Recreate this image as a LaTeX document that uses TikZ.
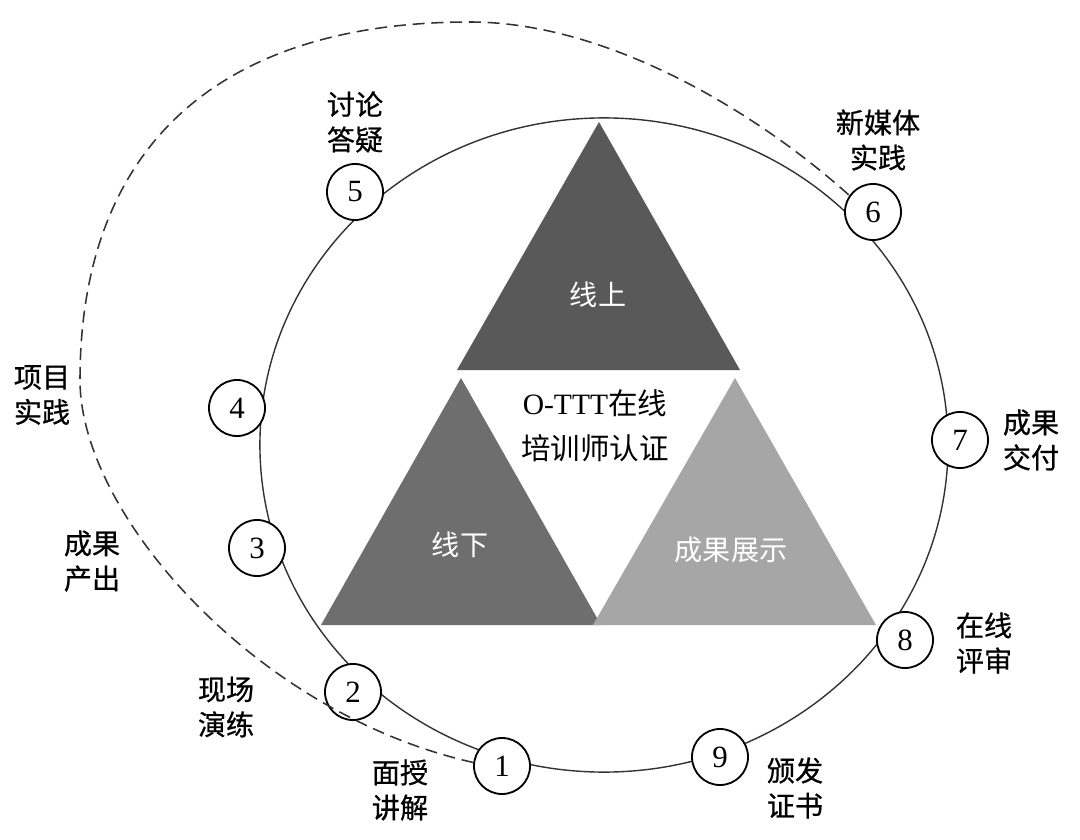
\documentclass[tikz,border=0pt]{standalone}
\usepackage{fontspec}
\setmainfont{Liberation Serif}
\newfontfamily\cjk{Noto Sans CJK SC}
\newfontfamily\cjkb[FakeBold=0.6]{Noto Sans CJK SC}
\begin{document}
\begin{tikzpicture}[x=0.025cm,y=-0.025cm,
  num/.style={circle,draw=black,line width=1.3pt,fill=white,minimum size=1.4cm,inner sep=0pt,font=\fontsize{22}{22}\selectfont},
  lbl/.style={align=center,inner sep=0pt,font=\cjkb\fontsize{20}{25}\selectfont},
  tlbl/.style={align=center,inner sep=0pt,text=white,font=\cjk\fontsize{20}{25}\selectfont},
  ring/.style={draw=black!80,line width=1pt},
  loopline/.style={draw=black!80,line width=1.1pt,dash pattern=on 0.3cm off 0.17cm}]
\useasboundingbox (0,0) rectangle (1080,840);
\fill[white] (0,0) rectangle (1080,840);
% big ring
\draw[ring] (604,445) ellipse [x radius=8.6cm, y radius=8.175cm];
% triangles
\fill[black!65!white] (599,122) -- (740,370) -- (457,370) -- cycle;
\fill[black!57!white] (461,378) -- (601,625) -- (321,625) -- cycle;
\fill[black!35!white] (735,378) -- (876,625) -- (593,625) -- cycle;
\node[tlbl] (t1) at (598,295) {线上};
\node[tlbl] (t2) at (460,545) {线下};
\node[tlbl] (t3) at (731,550) {成果展示};
\node[align=center,inner sep=0pt,font=\fontsize{21}{32}\selectfont] (ctr) at (595,426) {O-TTT{\cjk 在线}\\{\cjk 培训师认证}};
% number circles
\node[num] (c1) at (502,766) {1};
\node[num] (c2) at (353,692) {2};
\node[num] (c3) at (257,548) {3};
\node[num] (c4) at (237,408) {4};
\node[num] (c5) at (355,192) {5};
\node[num] (c6) at (873,212) {6};
\node[num] (c7) at (960,440) {7};
\node[num] (c8) at (905,640) {8};
\node[num] (c9) at (720,757) {9};
% dashed loop
\coordinate (dl) at (80,380);
\coordinate (dt) at (470,22);
\draw[loopline] (c1.173) .. controls (257,714) and (80,515) .. (dl)
  .. controls (80,150) and (215,22) .. (dt)
  .. controls (610,22) and (760,115) .. (c6.145);
% labels
\node[lbl] (l1) at (400,790) {面授\\讲解};
\node[lbl] (l2) at (226,707) {现场\\演练};
\node[lbl] (l3) at (92,561) {成果\\产出};
\node[lbl] (l4) at (42,395) {项目\\实践};
\node[lbl] (l5) at (355,122) {讨论\\答疑};
\node[lbl] (l6) at (878,140) {新媒体\\实践};
\node[lbl] (l7) at (1031,440) {成果\\交付};
\node[lbl] (l8) at (984,643) {在线\\评审};
\node[lbl] (l9) at (795,788) {颁发\\证书};
\end{tikzpicture}
\end{document}
